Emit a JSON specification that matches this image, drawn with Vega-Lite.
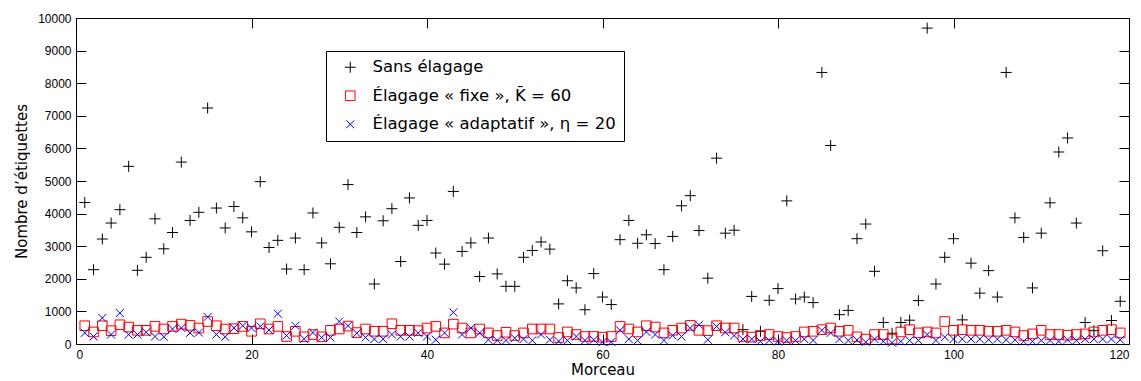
{
 "$schema": "https://vega.github.io/schema/vega-lite/v6.json",
 "width": 1053, "height": 326,
 "autosize": {"type": "none"},
 "padding": {"left": 76, "top": 18, "right": 12, "bottom": 37},
 "background": "white",
 "config": {
  "view": {"stroke": "black", "strokeWidth": 1},
  "axis": {"grid": false, "domain": false, "ticks": true, "tickColor": "black", "tickOpacity": 1, "tickWidth": 1, "labelColor": "black", "titleColor": "black",
           "labelFont": "Liberation Sans", "labelFontSize": 12, "titleFont": "DejaVu Sans", "titleFontSize": 15, "titleFontWeight": "normal",
           "tickSize": 10, "offset": -10, "labelPadding": 5, "zindex": 1}
 },
 "data": {"values": [
  {"m":1,"s":4340,"f":560,"a":340},{"m":2,"s":2280,"f":370,"a":230},{"m":3,"s":3220,"f":560,"a":800},{"m":4,"s":3710,"f":410,"a":290},
  {"m":5,"s":4120,"f":590,"a":950},{"m":6,"s":5450,"f":520,"a":290},{"m":7,"s":2260,"f":420,"a":290},{"m":8,"s":2660,"f":420,"a":360},
  {"m":9,"s":3840,"f":540,"a":230},{"m":10,"s":2920,"f":460,"a":220},{"m":11,"s":3420,"f":540,"a":460},{"m":12,"s":5580,"f":610,"a":490},
  {"m":13,"s":3790,"f":570,"a":340},{"m":14,"s":4040,"f":490,"a":350},{"m":15,"s":7240,"f":690,"a":830},{"m":16,"s":4170,"f":560,"a":290},
  {"m":17,"s":3560,"f":460,"a":220},{"m":18,"s":4220,"f":470,"a":490},{"m":19,"s":3870,"f":540,"a":560},{"m":20,"s":3440,"f":390,"a":490},
  {"m":21,"s":4980,"f":620,"a":540},{"m":22,"s":2960,"f":460,"a":430},{"m":23,"s":3180,"f":540,"a":930},{"m":24,"s":2300,"f":230,"a":260},
  {"m":25,"s":3250,"f":390,"a":560},{"m":26,"s":2280,"f":220,"a":160},{"m":27,"s":4020,"f":290,"a":350},{"m":28,"s":3100,"f":220,"a":200},
  {"m":29,"s":2460,"f":420,"a":200},{"m":30,"s":3580,"f":460,"a":690},{"m":31,"s":4890,"f":550,"a":560},{"m":32,"s":3420,"f":350,"a":330},
  {"m":33,"s":3900,"f":460,"a":200},{"m":34,"s":1840,"f":390,"a":150},{"m":35,"s":3780,"f":390,"a":150},{"m":36,"s":4150,"f":620,"a":290},
  {"m":37,"s":2530,"f":420,"a":230},{"m":38,"s":4480,"f":420,"a":230},{"m":39,"s":3640,"f":410,"a":340},{"m":40,"s":3790,"f":490,"a":230},
  {"m":41,"s":2790,"f":540,"a":130},{"m":42,"s":2450,"f":340,"a":340},{"m":43,"s":4680,"f":610,"a":970},{"m":44,"s":2840,"f":490,"a":290},
  {"m":45,"s":3100,"f":340,"a":490},{"m":46,"s":2070,"f":460,"a":340},{"m":47,"s":3250,"f":340,"a":130},{"m":48,"s":2150,"f":260,"a":110},
  {"m":49,"s":1770,"f":360,"a":110},{"m":50,"s":1770,"f":260,"a":180},{"m":51,"s":2660,"f":340,"a":150},{"m":52,"s":2870,"f":460,"a":110},
  {"m":53,"s":3130,"f":460,"a":290},{"m":54,"s":2910,"f":460,"a":130},{"m":55,"s":1230,"f":200,"a":90},{"m":56,"s":1940,"f":370,"a":110},
  {"m":57,"s":1720,"f":290,"a":230},{"m":58,"s":1050,"f":230,"a":110},{"m":59,"s":2160,"f":230,"a":130},{"m":60,"s":1440,"f":210,"a":60},
  {"m":61,"s":1210,"f":230,"a":60},{"m":62,"s":3200,"f":540,"a":420},{"m":63,"s":3790,"f":460,"a":150},{"m":64,"s":3090,"f":370,"a":110},
  {"m":65,"s":3350,"f":560,"a":370},{"m":66,"s":3080,"f":520,"a":290},{"m":67,"s":2280,"f":340,"a":110},{"m":68,"s":3300,"f":420,"a":260},
  {"m":69,"s":4240,"f":490,"a":230},{"m":70,"s":4550,"f":570,"a":490},{"m":71,"s":3480,"f":420,"a":590},{"m":72,"s":2020,"f":410,"a":130},
  {"m":73,"s":5700,"f":560,"a":540},{"m":74,"s":3400,"f":490,"a":360},{"m":75,"s":3490,"f":490,"a":260},{"m":76,"s":440,"f":230,"a":150},
  {"m":77,"s":1460,"f":210,"a":150},{"m":78,"s":390,"f":260,"a":80},{"m":79,"s":1340,"f":290,"a":110},{"m":80,"s":1700,"f":230,"a":80},
  {"m":81,"s":4390,"f":200,"a":110},{"m":82,"s":1380,"f":230,"a":110},{"m":83,"s":1440,"f":370,"a":150},{"m":84,"s":1270,"f":390,"a":110},
  {"m":85,"s":8330,"f":440,"a":420},{"m":86,"s":6090,"f":490,"a":340},{"m":87,"s":900,"f":390,"a":150},{"m":88,"s":1030,"f":420,"a":110},
  {"m":89,"s":3230,"f":220,"a":120},{"m":90,"s":3680,"f":150,"a":60},{"m":91,"s":2230,"f":290,"a":150},{"m":92,"s":660,"f":290,"a":80},
  {"m":93,"s":330,"f":150,"a":40},{"m":94,"s":660,"f":370,"a":80},{"m":95,"s":730,"f":440,"a":110},{"m":96,"s":1330,"f":340,"a":110},
  {"m":97,"s":9690,"f":370,"a":290},{"m":98,"s":1840,"f":340,"a":110},{"m":99,"s":2660,"f":690,"a":210},{"m":100,"s":3230,"f":420,"a":150},
  {"m":101,"s":740,"f":440,"a":150},{"m":102,"s":2480,"f":420,"a":150},{"m":103,"s":1560,"f":420,"a":150},{"m":104,"s":2250,"f":390,"a":130},
  {"m":105,"s":1440,"f":390,"a":150},{"m":106,"s":8330,"f":420,"a":130},{"m":107,"s":3870,"f":370,"a":130},{"m":108,"s":3270,"f":260,"a":80},
  {"m":109,"s":1720,"f":310,"a":80},{"m":110,"s":3400,"f":420,"a":110},{"m":111,"s":4330,"f":290,"a":110},{"m":112,"s":5890,"f":290,"a":80},
  {"m":113,"s":6320,"f":270,"a":130},{"m":114,"s":3710,"f":290,"a":110},{"m":115,"s":660,"f":310,"a":150},{"m":116,"s":410,"f":370,"a":150},
  {"m":117,"s":2860,"f":420,"a":150},{"m":118,"s":720,"f":440,"a":150},{"m":119,"s":1310,"f":340,"a":130}
 ]},
 "encoding": {
  "color": {"field": "serie", "type": "nominal", "scale": {"domain": ["s","f","a"], "range": ["black","#ff0000","#0000ff"]},
   "legend": {"orient": "none", "legendX": 250, "legendY": 33, "title": null, "direction": "vertical",
     "labelExpr": "datum.label == 's' ? 'Sans élagage' : datum.label == 'f' ? 'Élagage « fixe », K̄ = 60' : 'Élagage « adaptatif », η = 20'",
     "labelFont": "DejaVu Sans", "labelFontSize": 16.5, "labelColor": "black", "labelOffset": 14, "labelLimit": 500,
     "padding": 8, "rowPadding": 11.5, "symbolOffset": 8, "symbolSize": 100, "symbolStrokeWidth": 1,
     "strokeColor": "black", "fillColor": "white"}},
  "shape": {"field": "serie", "type": "nominal", "scale": {"domain": ["s","f","a"], "range": ["M-1,0L1,0M0,-1L0,1","square","M-1,-1L1,1M-1,1L1,-1"]}},
  "size": {"field": "serie", "type": "nominal", "scale": {"domain": ["s","f","a"], "range": [121, 64, 49]}}
 },
 "layer": [
  {"transform": [{"fold": ["s"], "as": ["serie", "n"]}],
   "mark": {"type": "point", "filled": false, "strokeWidth": 1, "opacity": 1},
   "encoding": {
    "x": {"field": "m", "type": "quantitative", "scale": {"domain": [0,120], "nice": false},
          "axis": {"orient": "bottom", "values": [0,20,40,60,80,100,120], "title": "Morceau", "titlePadding": 2}},
    "y": {"field": "n", "type": "quantitative", "scale": {"domain": [0,10000], "nice": false},
          "axis": {"orient": "left", "values": [0,1000,2000,3000,4000,5000,6000,7000,8000,9000,10000], "format": "d", "title": "Nombre d’étiquettes", "titlePadding": 8}}
   }},
  {"transform": [{"fold": ["f"], "as": ["serie", "n"]}],
   "mark": {"type": "point", "filled": false, "strokeWidth": 1, "opacity": 1},
   "encoding": {
    "x": {"field": "m", "type": "quantitative", "axis": {"orient": "top", "values": [0,20,40,60,80,100,120], "labels": false, "title": null}},
    "y": {"field": "n", "type": "quantitative", "axis": {"orient": "right", "values": [0,1000,2000,3000,4000,5000,6000,7000,8000,9000,10000], "labels": false, "title": null}}
   }},
  {"transform": [{"fold": ["a"], "as": ["serie", "n"]}],
   "mark": {"type": "point", "filled": false, "strokeWidth": 1, "opacity": 1},
   "encoding": {
    "x": {"field": "m", "type": "quantitative", "axis": null},
    "y": {"field": "n", "type": "quantitative", "axis": null}
   }}
 ],
 "resolve": {"axis": {"x": "independent", "y": "independent"}}
}
